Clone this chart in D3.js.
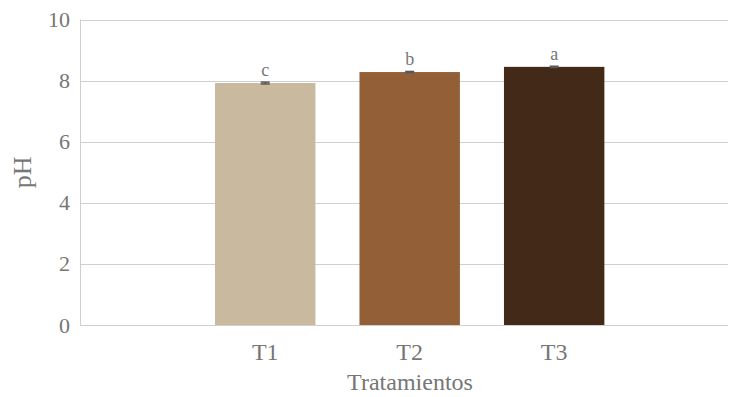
<!DOCTYPE html>
<html><head><meta charset="utf-8">
<script src="https://cdn.jsdelivr.net/npm/d3@7"></script>
<style>body{margin:0;background:#fff}svg{display:block}</style>
</head><body>
<svg id="c" width="732" height="397"></svg>
<script>
const categories = ["T1","T2","T3"];
const values = [7.92, 8.28, 8.45];
const errors = [0.03, 0.02, 0.02];
const letters = ["c","b","a"];
const colors = ["#C9B99F","#935F36","#432918"];
const yTicks = [0,2,4,6,8,10];

const FONT = "Liberation Serif";
const TXT = "#767676";
const svg = d3.select("#c");
const m = {l:80, r:4, t:19.5, b:72};
const W = 732, H = 397;
const x = d3.scaleBand().domain(categories).range([m.l, W-m.r]).paddingInner(0.305).paddingOuter(0.895).align(0.522);
const y = d3.scaleLinear().domain([0,10]).range([H-m.b, m.t]);

// gridlines
svg.append("g").selectAll("line").data(yTicks).join("line")
  .attr("x1", m.l).attr("x2", W-m.r)
  .attr("y1", d=>Math.round(y(d))+0.5).attr("y2", d=>Math.round(y(d))+0.5)
  .attr("stroke", "#CFCFCF").attr("stroke-width", 1);
svg.append("line").attr("x1", m.l+0.5).attr("x2", m.l+0.5)
  .attr("y1", y(10)).attr("y2", y(0)).attr("stroke","#CFCFCF");

// y tick labels
const yAxis = d3.axisLeft(y).tickValues(yTicks).tickSize(0).tickPadding(10);
const ga = svg.append("g").attr("transform", `translate(${m.l},0)`).call(yAxis);
ga.select(".domain").remove();
ga.attr("font-family", FONT).attr("font-size", 22);
ga.selectAll("text").attr("fill", TXT);

// bars
svg.append("g").selectAll("rect").data(categories).join("rect")
  .attr("x", d=>x(d)).attr("width", x.bandwidth())
  .attr("y", (d,i)=>y(values[i])).attr("height", (d,i)=>y(0)-y(values[i]))
  .attr("fill", (d,i)=>colors[i]);

// error bars + letters
const eb = svg.append("g");
categories.forEach((c,i)=>{
  const cx = x(c)+x.bandwidth()/2;
  eb.append("line").attr("x1",cx).attr("x2",cx).attr("y1",y(values[i]+errors[i])).attr("y2",y(values[i]-errors[i])).attr("stroke","#595959").attr("stroke-width",1.5);
  [values[i]+errors[i], values[i]-errors[i]].forEach(v=>{
    eb.append("line").attr("x1",cx-4.5).attr("x2",cx+4.5).attr("y1",y(v)).attr("y2",y(v)).attr("stroke","#595959").attr("stroke-width",1.5);
  });
  svg.append("text").attr("x",cx).attr("y",y(values[i]+errors[i])-6).attr("text-anchor","middle")
    .attr("font-family",FONT).attr("fill",TXT).attr("font-size",18).text(letters[i]);
});

// x labels
const xAxis = d3.axisBottom(x).tickSize(0).tickPadding(18);
const gx = svg.append("g").attr("transform", `translate(0,${y(0)})`).call(xAxis);
gx.select(".domain").remove();
gx.attr("font-family", FONT).attr("font-size", 24);
gx.selectAll("text").attr("fill", TXT);

// axis titles
svg.append("text").attr("x", 410).attr("y", 390).attr("text-anchor","middle")
  .attr("font-family",FONT).attr("fill",TXT).attr("font-size",24).text("Tratamientos");
svg.append("text").attr("transform", `translate(31,${(y(0)+y(10))/2}) rotate(-90)`).attr("text-anchor","middle")
  .attr("font-family",FONT).attr("fill",TXT).attr("font-size",26).text("pH");
</script>
</body></html>
